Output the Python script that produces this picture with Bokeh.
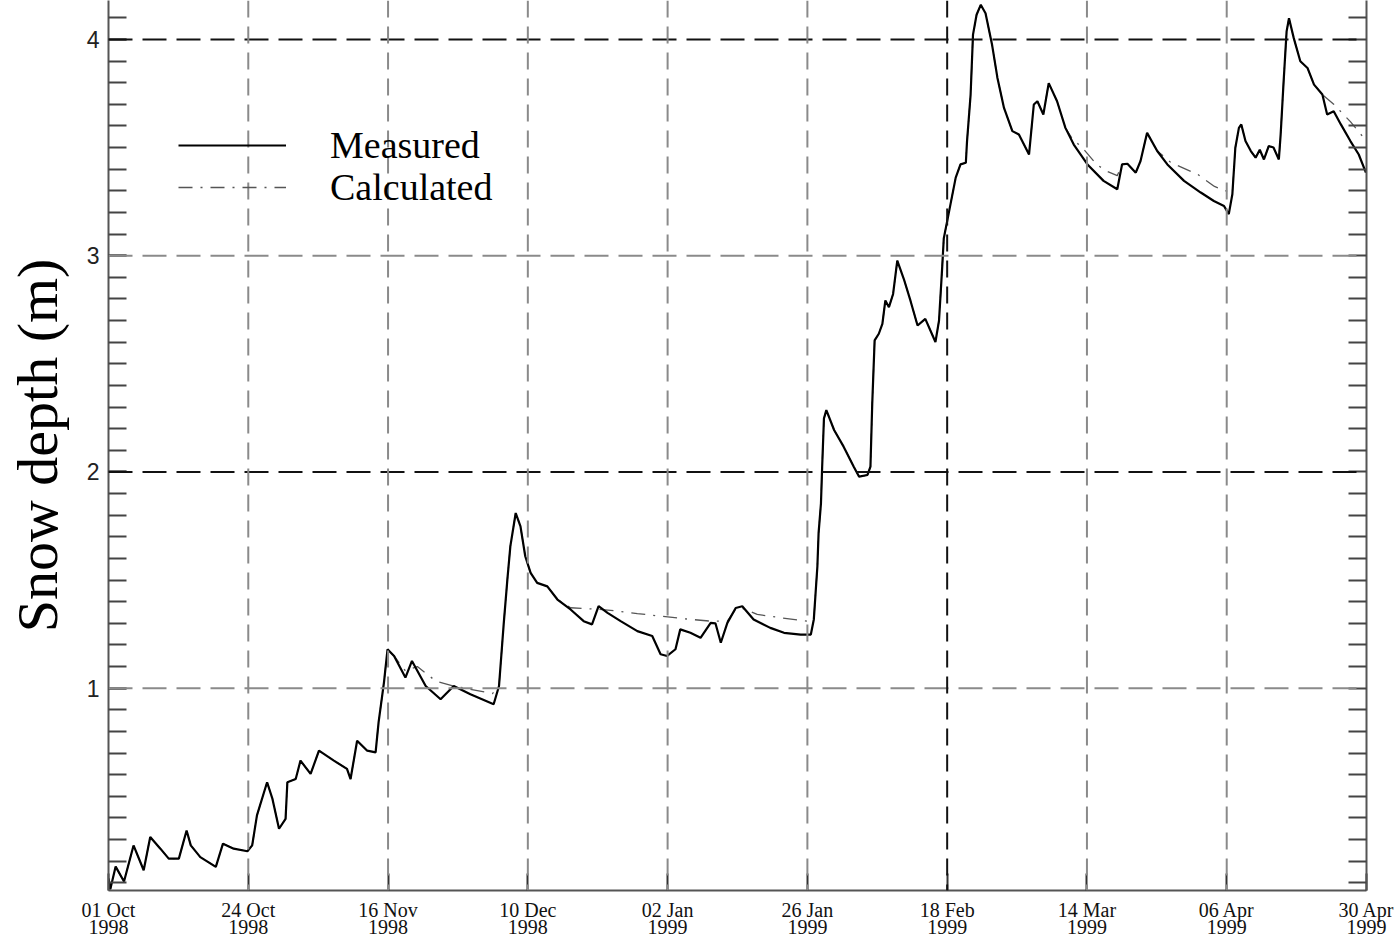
from bokeh.plotting import figure
from bokeh.models import Range1d, FixedTicker, LinearAxis, Span, Legend, LegendItem
from bokeh.embed import file_html
from bokeh.resources import INLINE

# ---- data (days since 01 Oct 1998, snow depth in m) ----
meas_day = [0.0, 0.3, 1.2, 2.6, 4.2, 5.9, 7.0, 8.7, 10.1, 11.8, 13.1, 13.8, 15.4, 18.0, 19.2, 21.0,
            23.3, 24.1, 24.9, 26.6, 27.5, 28.6, 29.7, 30.0, 31.4, 32.2, 33.9, 35.3, 37.8, 40.0, 40.6,
            41.7, 43.4, 44.8, 45.3, 46.2, 46.8, 47.9, 49.8, 50.9, 53.2, 55.7, 57.9, 60.7, 64.6, 65.5,
            66.3, 66.9, 67.4, 68.3, 69.1, 69.9, 70.8, 71.9, 73.6, 75.3, 77.5, 79.7, 81.1, 82.2, 83.7,
            85.9, 88.7, 91.2, 92.6, 93.7, 95.1, 95.9, 97.6, 99.3, 101.0, 101.8, 102.7, 103.8, 105.2,
            106.3, 108.2, 111.0, 113.3, 116.1, 117.8, 118.3, 118.9, 119.1, 119.5, 119.7, 120.0, 120.4,
            121.7, 123.3, 125.0, 125.9, 127.3, 127.8, 128.1, 128.5, 129.2, 129.8, 130.3, 130.9, 131.6,
            132.3, 133.4, 134.5, 135.7, 137.0, 138.7, 139.3, 139.8, 140.1, 140.9, 142.1, 142.9, 143.8,
            144.0, 144.6, 145.0, 145.6, 146.3, 147.1, 148.2, 149.1, 150.2, 151.6, 152.7, 154.4, 155.2,
            155.8, 156.8, 157.7, 159.1, 160.5, 161.9, 164.2, 166.9, 169.2, 170.0, 170.9, 172.3, 173.1,
            174.2, 175.9, 177.6, 180.4, 183.2, 185.4, 187.1, 187.9, 188.5, 189.0, 189.6, 190.0, 190.7,
            191.6, 192.4, 193.1, 193.8, 194.6, 195.4, 196.3, 196.6, 197.1, 197.6, 198.0, 198.8, 199.9,
            201.1, 202.2, 203.6, 204.4, 205.5, 206.7, 208.3, 209.7, 210.9]
meas_depth = [0.12, 0.07, 0.175, 0.106, 0.273, 0.158, 0.312, 0.258, 0.212, 0.212, 0.342, 0.273, 0.219,
              0.174, 0.281, 0.258, 0.246, 0.273, 0.412, 0.565, 0.488, 0.35, 0.396, 0.565, 0.58, 0.665,
              0.604, 0.711, 0.665, 0.627, 0.58, 0.757, 0.711, 0.703, 0.842, 1.026, 1.18, 1.149, 1.049,
              1.126, 1.01, 0.949, 1.01, 0.972, 0.926, 1.01, 1.302, 1.502, 1.656, 1.81, 1.748, 1.61,
              1.533, 1.487, 1.471, 1.41, 1.364, 1.31, 1.295, 1.379, 1.348, 1.31, 1.264, 1.241, 1.157,
              1.149, 1.18, 1.272, 1.256, 1.233, 1.302, 1.30, 1.21, 1.302, 1.371, 1.379, 1.318, 1.279,
              1.256, 1.248, 1.248, 1.318, 1.564, 1.717, 1.855, 2.024, 2.247, 2.286, 2.194, 2.117, 2.024,
              1.978, 1.986, 2.024, 2.316, 2.608, 2.639, 2.685, 2.793, 2.762, 2.823, 2.977, 2.892, 2.793,
              2.677, 2.708, 2.601, 2.700, 2.931, 3.08, 3.192, 3.361, 3.422, 3.43, 3.530, 3.745, 4.022,
              4.114, 4.160, 4.121, 3.975, 3.822, 3.683, 3.576, 3.560, 3.468, 3.699, 3.714, 3.653, 3.798,
              3.714, 3.591, 3.514, 3.422, 3.346, 3.307, 3.422, 3.425, 3.384, 3.438, 3.568, 3.484, 3.422,
              3.346, 3.292, 3.253, 3.230, 3.192, 3.284, 3.499, 3.591, 3.607, 3.530, 3.484, 3.453, 3.49,
              3.445, 3.507, 3.50, 3.445, 3.560, 3.806, 4.037, 4.098, 4.006, 3.899, 3.868, 3.791, 3.745,
              3.653, 3.668, 3.607, 3.530, 3.468, 3.384]

calc_day = [0.0, 0.3, 1.2, 2.6, 4.2, 5.9, 7.0, 8.7, 10.1, 11.8, 13.1, 13.8, 15.4, 18.0, 19.2, 21.0,
            23.3, 24.1, 24.9, 26.6, 27.5, 28.6, 29.7, 30.0, 31.4, 32.2, 33.9, 35.3, 37.8, 40.0, 40.6,
            41.7, 43.4, 44.8, 45.3, 46.2, 46.8, 47.9, 49.8, 51.8, 54.9, 57.9, 60.7, 64.4, 65.5,
            66.3, 66.9, 67.4, 68.3, 69.1, 69.9, 70.8, 71.9, 73.6, 75.3, 77.5, 79.7, 82.2, 85.9, 88.7,
            92.7, 97.0, 101.0, 103.8, 105.2, 106.3, 108.8, 113.0, 117.2, 118.3, 118.9, 119.1, 119.5,
            119.7, 120.0, 120.4, 121.7, 123.3, 125.0, 125.9, 127.3, 127.8, 128.1, 128.5, 129.2, 129.8,
            130.3, 130.9, 131.6, 132.3, 133.4, 134.5, 135.7, 137.0, 138.7, 139.3, 139.8, 140.1, 140.9,
            142.1, 142.9, 143.8, 144.0, 144.6, 145.0, 145.6, 146.3, 147.1, 148.2, 149.1, 150.2, 151.6,
            152.7, 154.4, 155.2, 155.8, 156.8, 157.7, 159.1, 160.5, 161.9, 163.0, 165.8, 167.5, 169.2,
            170.0, 170.9, 172.3, 173.1, 174.2, 175.9, 177.6, 178.2, 182.7, 185.5, 188.3, 188.5, 189.0,
            189.6, 190.0, 190.7, 191.6, 192.4, 193.1, 193.8, 194.6, 195.4, 196.3, 196.6, 197.1, 197.6,
            198.0, 198.8, 199.9, 201.1, 202.2, 203.6, 205.5, 208.3, 210.3]
calc_depth = [0.12, 0.07, 0.175, 0.106, 0.273, 0.158, 0.312, 0.258, 0.212, 0.212, 0.342, 0.273, 0.219,
              0.174, 0.281, 0.258, 0.246, 0.273, 0.412, 0.565, 0.488, 0.35, 0.396, 0.565, 0.58, 0.665,
              0.604, 0.711, 0.665, 0.627, 0.58, 0.757, 0.711, 0.703, 0.842, 1.026, 1.18, 1.149, 1.08,
              1.10, 1.033, 1.01, 0.995, 0.975, 1.01, 1.302, 1.502, 1.656, 1.81, 1.748, 1.61, 1.533,
              1.487, 1.471, 1.41, 1.372, 1.368, 1.365, 1.355, 1.345, 1.333, 1.32, 1.31, 1.31, 1.365,
              1.37, 1.341, 1.325, 1.31, 1.318, 1.564, 1.717, 1.855, 2.024, 2.247, 2.286, 2.194, 2.117,
              2.024, 1.978, 1.986, 2.024, 2.316, 2.608, 2.639, 2.685, 2.793, 2.762, 2.823, 2.977, 2.892,
              2.793, 2.677, 2.708, 2.601, 2.700, 2.931, 3.08, 3.192, 3.361, 3.422, 3.43, 3.530, 3.745,
              4.022, 4.114, 4.160, 4.121, 3.975, 3.822, 3.683, 3.576, 3.560, 3.468, 3.699, 3.714, 3.653,
              3.798, 3.714, 3.591, 3.53, 3.51, 3.42, 3.39, 3.37, 3.422, 3.425, 3.384, 3.438, 3.568,
              3.484, 3.445, 3.43, 3.376, 3.32, 3.29, 3.29, 3.499, 3.591, 3.607, 3.530, 3.484, 3.453,
              3.49, 3.445, 3.507, 3.50, 3.445, 3.560, 3.806, 4.037, 4.098, 4.006, 3.899, 3.868, 3.791,
              3.745, 3.70, 3.62, 3.553]

x_tick_labels = ["01 Oct\n1998", "24 Oct\n1998", "16 Nov\n1998", "10 Dec\n1998", "02 Jan\n1999",
                 "26 Jan\n1999", "18 Feb\n1999", "14 Mar\n1999", "06 Apr\n1999", "30 Apr\n1999"]
y_major = [1, 2, 3, 4]
series_names = ["Measured", "Calculated"]

# ---- positions / styles ----
n_int = len(x_tick_labels) - 1
x_ticks = [i * 211 / n_int for i in range(len(x_tick_labels))]
y_minor = [round(0.1 * k, 1) for k in range(1, 42)]
hgrid_colors = ["#8a8a8a", "#111111", "#8a8a8a", "#111111"]
vgrid_colors = ["#8a8a8a"] * 5 + ["#111111"] + ["#8a8a8a"] * 2

p = figure(width=1400, height=940, x_range=Range1d(0, 211), y_range=Range1d(0.0645, 4.18),
           output_backend="svg", toolbar_location=None,
           min_border_left=108, min_border_right=34, min_border_top=0, min_border_bottom=48)
p.grid.visible = False
p.outline_line_color = None
p.background_fill_color = "white"
p.border_fill_color = "white"

# grid lines
for yv, c in zip(y_major, hgrid_colors):
    p.add_layout(Span(location=yv, dimension="width", line_color=c, line_width=2, line_dash="24 10"))
for xv, c in zip(x_ticks[1:-1], vgrid_colors):
    p.add_layout(Span(location=xv, dimension="height", line_color=c, line_width=2, line_dash="17 9"))

r_calc = p.line(calc_day, calc_depth, line_color="#555555", line_width=1.3, line_dash="14 8 2 8")
r_meas = p.line(meas_day, meas_depth, line_color="black", line_width=2.2)

# x axis
xa = p.xaxis[0]
xa.ticker = FixedTicker(ticks=x_ticks, minor_ticks=[])
xa.major_label_overrides = dict(zip(x_ticks, x_tick_labels))
xa.major_tick_in = 17
xa.major_tick_out = 0
xa.minor_tick_in = 0
xa.minor_tick_out = 0
xa.axis_line_color = "#555555"
xa.axis_line_width = 2
xa.major_tick_line_color = "#333333"
xa.major_tick_line_width = 2
xa.major_label_text_font = "Liberation Serif"
xa.major_label_text_font_size = "20px"
xa.major_label_text_color = "#111111"
xa.major_label_text_line_height = 0.78
xa.major_label_standoff = 8

# y axis
ya = p.yaxis[0]
ya.ticker = FixedTicker(ticks=y_major, minor_ticks=y_minor)
ya.major_tick_in = 18
ya.major_tick_out = 0
ya.minor_tick_in = 18
ya.minor_tick_out = 0
ya.axis_line_color = "#555555"
ya.axis_line_width = 2
ya.major_tick_line_color = "#333333"
ya.major_tick_line_width = 2
ya.minor_tick_line_color = "#444444"
ya.minor_tick_line_width = 2
ya.major_label_text_font = "Liberation Sans"
ya.major_label_text_font_size = "23px"
ya.major_label_text_color = "#222222"
ya.major_label_standoff = 9
ya.axis_label = "Snow depth (m)"
ya.axis_label_text_font = "Liberation Serif"
ya.axis_label_text_font_size = "58px"
ya.axis_label_text_font_style = "normal"
ya.axis_label_text_color = "black"
ya.axis_label_standoff = 14

# right mirrored axis: ticks only, no labels
ra = LinearAxis(ticker=FixedTicker(ticks=[], minor_ticks=y_minor),
                major_tick_in=0, major_tick_out=0, minor_tick_in=18, minor_tick_out=0,
                axis_line_color="#555555", axis_line_width=2,
                minor_tick_line_color="#444444", minor_tick_line_width=2)
p.add_layout(ra, "right")

legend_style = dict(glyph_width=108, glyph_height=42, label_height=42, label_standoff=44,
                    label_text_font="Liberation Serif", label_text_font_size="38px",
                    label_text_color="black", padding=0, margin=0,
                    border_line_color=None, background_fill_alpha=0)
leg_meas = Legend(items=[LegendItem(label=series_names[0], renderers=[r_meas])],
                  location=(70, 723), **legend_style)
leg_calc = Legend(items=[LegendItem(label=series_names[1], renderers=[r_calc])],
                  location=(70, 681), **legend_style)
p.add_layout(leg_meas)
p.add_layout(leg_calc)

open("out.html", "w").write(file_html(p, INLINE))
